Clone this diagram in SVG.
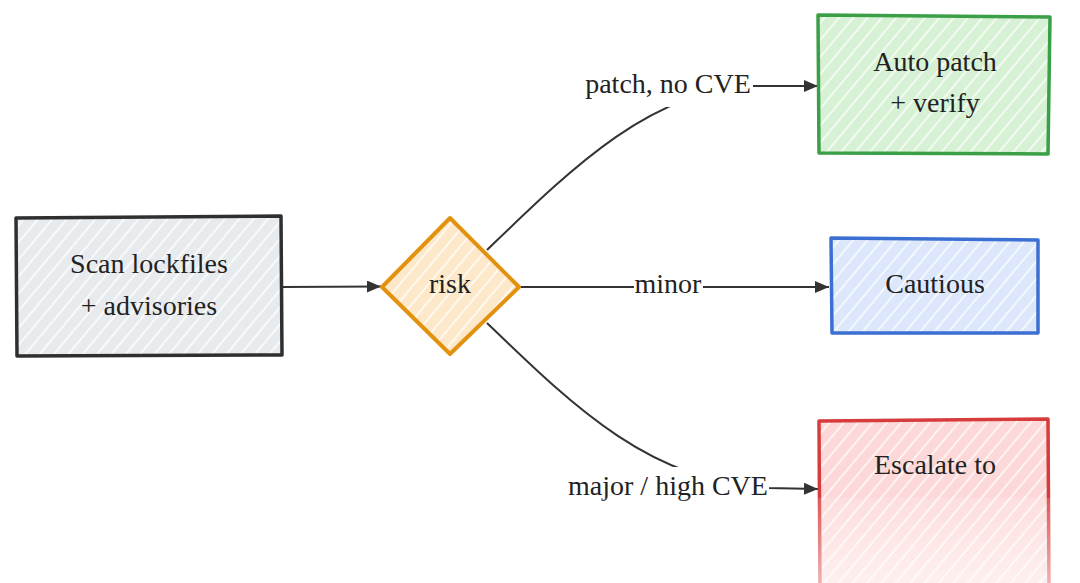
<svg xmlns="http://www.w3.org/2000/svg" width="1080" height="583" viewBox="0 0 1080 583">
  <defs>
    <pattern id="hatch" patternUnits="userSpaceOnUse" width="11" height="11" patternTransform="rotate(40)">
      <line x1="5" y1="0" x2="5" y2="11" stroke="#ffffff" stroke-width="1.6" stroke-opacity="0.85"/>
    </pattern>
    <marker id="arrow" viewBox="0 0 14 12" refX="14" refY="6" markerWidth="14" markerHeight="12" markerUnits="userSpaceOnUse" orient="auto">
      <path d="M0,0 L14,6 L0,12 Z" fill="#333333"/>
    </marker>
    <linearGradient id="fade" x1="0" y1="0" x2="0" y2="1">
      <stop offset="0" stop-color="#ffffff" stop-opacity="0.15"/>
      <stop offset="1" stop-color="#ffffff" stop-opacity="0.6"/>
    </linearGradient>
  </defs>
  <style>
    .lbl { font-family: "Liberation Serif", "Times New Roman", serif; font-size: 28px; fill: #222222; text-anchor: middle; }
    .edge { fill: none; stroke: #333333; stroke-width: 2; }
    .hatch { fill: url(#hatch); }
    .bg { fill: #ffffff; }
  </style>
  <rect width="1080" height="583" fill="#ffffff"/>

  <g id="connectors">
    <path class="edge" d="M283,287 L381,286.5" marker-end="url(#arrow)"/>
    <path class="edge" d="M487,250 C570,170 650,90 752,86 L818,86" marker-end="url(#arrow)"/>
    <path class="edge" d="M519,287 L829,287" marker-end="url(#arrow)"/>
    <path class="edge" d="M487,323 C570,403 650,483 768,488 L818,489" marker-end="url(#arrow)"/>
    <rect class="bg" x="583" y="65" width="170" height="42"/>
    <text class="lbl" x="668" y="93">patch, no CVE</text>
    <rect class="bg" x="634" y="266" width="69" height="38"/>
    <text class="lbl" x="668" y="293">minor</text>
    <rect class="bg" x="566" y="467" width="203" height="42"/>
    <text class="lbl" x="668" y="495">major / high CVE</text>
  </g>

  <g id="scan">
    <rect x="17" y="217" width="265" height="138" fill="#e8ebee"/>
    <rect class="hatch" x="17" y="217" width="265" height="138"/>
    <path d="M16,218 L281,216 L282,355 L17,356 Z" fill="none" stroke="#2f2f2f" stroke-width="3.5" stroke-linejoin="round"/>
    <text class="lbl" x="149" y="273">Scan lockfiles</text>
    <text class="lbl" x="149" y="315">+ advisories</text>
  </g>

  <g id="risk">
    <path d="M450,218 L519,287 L450,354 L382,287 Z" fill="#fde8ca"/>
    <path class="hatch" d="M450,218 L519,287 L450,354 L382,287 Z"/>
    <path d="M450,218 L519,287 L450,354 L382,287 Z" fill="none" stroke="#e2920e" stroke-width="4" stroke-linejoin="round"/>
    <text class="lbl" x="450" y="293">risk</text>
  </g>

  <g id="autopatch">
    <rect x="819" y="16" width="231" height="138" fill="#d6f1d3"/>
    <rect class="hatch" x="819" y="16" width="231" height="138"/>
    <path d="M818,15 L1050,17 L1048,154 L819,153 Z" fill="none" stroke="#3a9f46" stroke-width="3.5" stroke-linejoin="round"/>
    <text class="lbl" x="935" y="71">Auto patch</text>
    <text class="lbl" x="935" y="112">+ verify</text>
  </g>

  <g id="cautious">
    <rect x="832" y="239" width="206" height="94" fill="#dce7fb"/>
    <rect class="hatch" x="832" y="239" width="206" height="94"/>
    <path d="M831,238 L1038,240 L1038,333 L832,333 Z" fill="none" stroke="#3c6fd2" stroke-width="3.5" stroke-linejoin="round"/>
    <text class="lbl" x="935" y="293">Cautious</text>
  </g>

  <g id="escalate">
    <rect x="820" y="420" width="229" height="170" fill="#fdd8d8"/>
    <rect class="hatch" x="820" y="420" width="229" height="170"/>
    <path d="M820,590 L819,421 L1048,419 L1049,590" fill="none" stroke="#d63c3c" stroke-width="3.5" stroke-linejoin="round"/>
    <text class="lbl" x="935" y="474">Escalate to</text>
  </g>

  <rect x="560" y="498" width="520" height="85" fill="url(#fade)"/>
</svg>
